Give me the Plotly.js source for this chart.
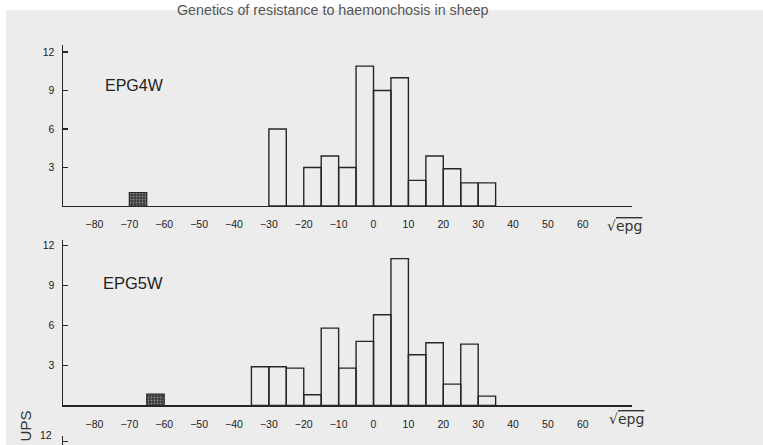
<!DOCTYPE html>
<html>
<head>
<meta charset="utf-8">
<script src="https://cdn.plot.ly/plotly-3.0.1.min.js"></script>
<style>html,body{margin:0;padding:0;background:#fff;}#chart{width:763px;height:445px;}</style>
</head>
<body>
<div id="chart"></div>
<script>
// Bin centres (sqrt epg, bins 5 units wide)
var topBins = [-27.5, -22.5, -17.5, -12.5, -7.5, -2.5, 2.5, 7.5, 12.5, 17.5, 22.5, 27.5, 32.5];
var topCounts = [6, 0, 3, 3.9, 3, 10.9, 9, 10, 2, 3.9, 2.9, 1.8, 1.8];
var topRefBin = [-67.5];
var topRefCount = [1.05];

var botBins = [-32.5, -27.5, -22.5, -17.5, -12.5, -7.5, -2.5, 2.5, 7.5, 12.5, 17.5, 22.5, 27.5, 32.5];
var botCounts = [2.9, 2.9, 2.8, 0.8, 5.8, 2.8, 4.8, 6.8, 11.0, 3.8, 4.7, 1.6, 4.6, 0.7];
var botRefBin = [-62.5];
var botRefCount = [0.85];

var xTicks = [-80, -70, -60, -50, -40, -30, -20, -10, 0, 10, 20, 30, 40, 50, 60];
var yTicks = [3, 6, 9, 12];
var panelLabels = ['EPG4W', 'EPG5W'];
var xLabel = '√<span style="text-decoration:overline">epg</span>';
var pageTitle = 'Genetics of resistance to haemonchosis in sheep';

var ink = '#262626';
var openBar = {color: 'rgba(0,0,0,0)', line: {color: ink, width: 1.4}};
var darkBar = {color: '#3a3a3a', line: {color: ink, width: 1.2},
  pattern: {shape: '.', fgcolor: '#8a8a8a', bgcolor: '#3a3a3a', size: 3, solidity: 0.3}};

var traces = [
  {type: 'bar', x: topBins, y: topCounts, width: 5, marker: openBar, xaxis: 'x', yaxis: 'y', hoverinfo: 'x+y'},
  {type: 'bar', x: topRefBin, y: topRefCount, width: 5, marker: darkBar, xaxis: 'x', yaxis: 'y'},
  {type: 'bar', x: botBins, y: botCounts, width: 5, marker: openBar, xaxis: 'x2', yaxis: 'y2'},
  {type: 'bar', x: botRefBin, y: botRefCount, width: 5, marker: darkBar, xaxis: 'x2', yaxis: 'y2'},
  {type: 'scatter', x: [], y: [], xaxis: 'x3', yaxis: 'y3'}
];

var tickFont = {family: 'Liberation Sans, Arial, sans-serif', size: 10.5, color: '#222'};
function xAx(anchor) {
  return {domain: [0.0826, 0.8279], range: [-89, 74], anchor: anchor, showline: true,
    linecolor: ink, linewidth: 1.5, showgrid: false, zeroline: false, tickvals: xTicks,
    ticks: '', ticklabelstandoff: 8, tickfont: tickFont, fixedrange: true};
}
function yAx(anchor, dom, rng) {
  return {domain: dom, range: rng, anchor: anchor, showline: true, linecolor: ink,
    linewidth: 1.5, showgrid: false, zeroline: false, tickvals: yTicks, ticks: 'inside',
    ticklen: 5, tickwidth: 1.2, tickcolor: ink, ticklabelstandoff: 5, tickfont: tickFont, fixedrange: true};
}

var layout = {
  width: 763, height: 445, autosize: false,
  margin: {l: 0, r: 0, t: 0, b: 0},
  paper_bgcolor: '#ffffff', plot_bgcolor: 'rgba(0,0,0,0)',
  showlegend: false, barmode: 'overlay',
  xaxis: xAx('y'),
  yaxis: yAx('x', [0.5371, 0.8989], [0, 12.55]),
  xaxis2: xAx('y2'),
  yaxis2: yAx('x2', [0.0888, 0.4607], [0, 12.4]),
  xaxis3: {domain: [0.0826, 0.8279], range: [-89, 74], anchor: 'y3', visible: false, fixedrange: true},
  yaxis3: Object.assign(yAx('x3', [0, 0.0202], [11.56, 12.76]), {tickvals: [12], showticklabels: false}),
  shapes: [
    {type: 'rect', xref: 'paper', yref: 'paper', x0: 0.0079, x1: 1.02, y0: -0.02, y1: 0.9775,
     fillcolor: '#ececec', line: {width: 0}, layer: 'below'}
  ],
  annotations: [
    {xref: 'paper', yref: 'paper', x: 0.4364, y: 0.955, yanchor: 'bottom', text: pageTitle, showarrow: false,
     font: {family: 'Liberation Sans, Arial', size: 14.3, color: '#555'}},
    {xref: 'paper', yref: 'paper', x: 0.135, y: 0.8074, xanchor: 'left', yanchor: 'middle',
     text: panelLabels[0], showarrow: false,
     font: {family: 'Liberation Sans, Arial, sans-serif', size: 16, color: '#222'}},
    {xref: 'paper', yref: 'paper', x: 0.132, y: 0.3634, xanchor: 'left', yanchor: 'middle',
     text: panelLabels[1], showarrow: false,
     font: {family: 'Liberation Sans, Arial, sans-serif', size: 16.5, color: '#222'}},
    {xref: 'paper', yref: 'paper', x: 0.793, y: 0.4921, xanchor: 'left', text: xLabel, showarrow: false,
     font: {family: 'DejaVu Sans, sans-serif', size: 14, color: '#333'}},
    {xref: 'paper', yref: 'paper', x: 0.7956, y: 0.036, xanchor: 'left', text: xLabel, showarrow: false,
     font: {family: 'DejaVu Sans, sans-serif', size: 14, color: '#333'}},
    {xref: 'paper', yref: 'paper', x: 0.034, y: 0.0045, xanchor: 'center', yanchor: 'bottom',
     text: 'UPS', textangle: -90, showarrow: false,
     font: {family: 'Liberation Sans, Arial, sans-serif', size: 15, color: '#333'}},
    {xref: 'paper', yref: 'paper', x: 0.0708, y: 0.0045, xanchor: 'right', yanchor: 'bottom',
     text: '12', showarrow: false, font: tickFont}
  ]
};

Plotly.newPlot('chart', traces, layout, {displayModeBar: false, staticPlot: true});
</script>
</body>
</html>
